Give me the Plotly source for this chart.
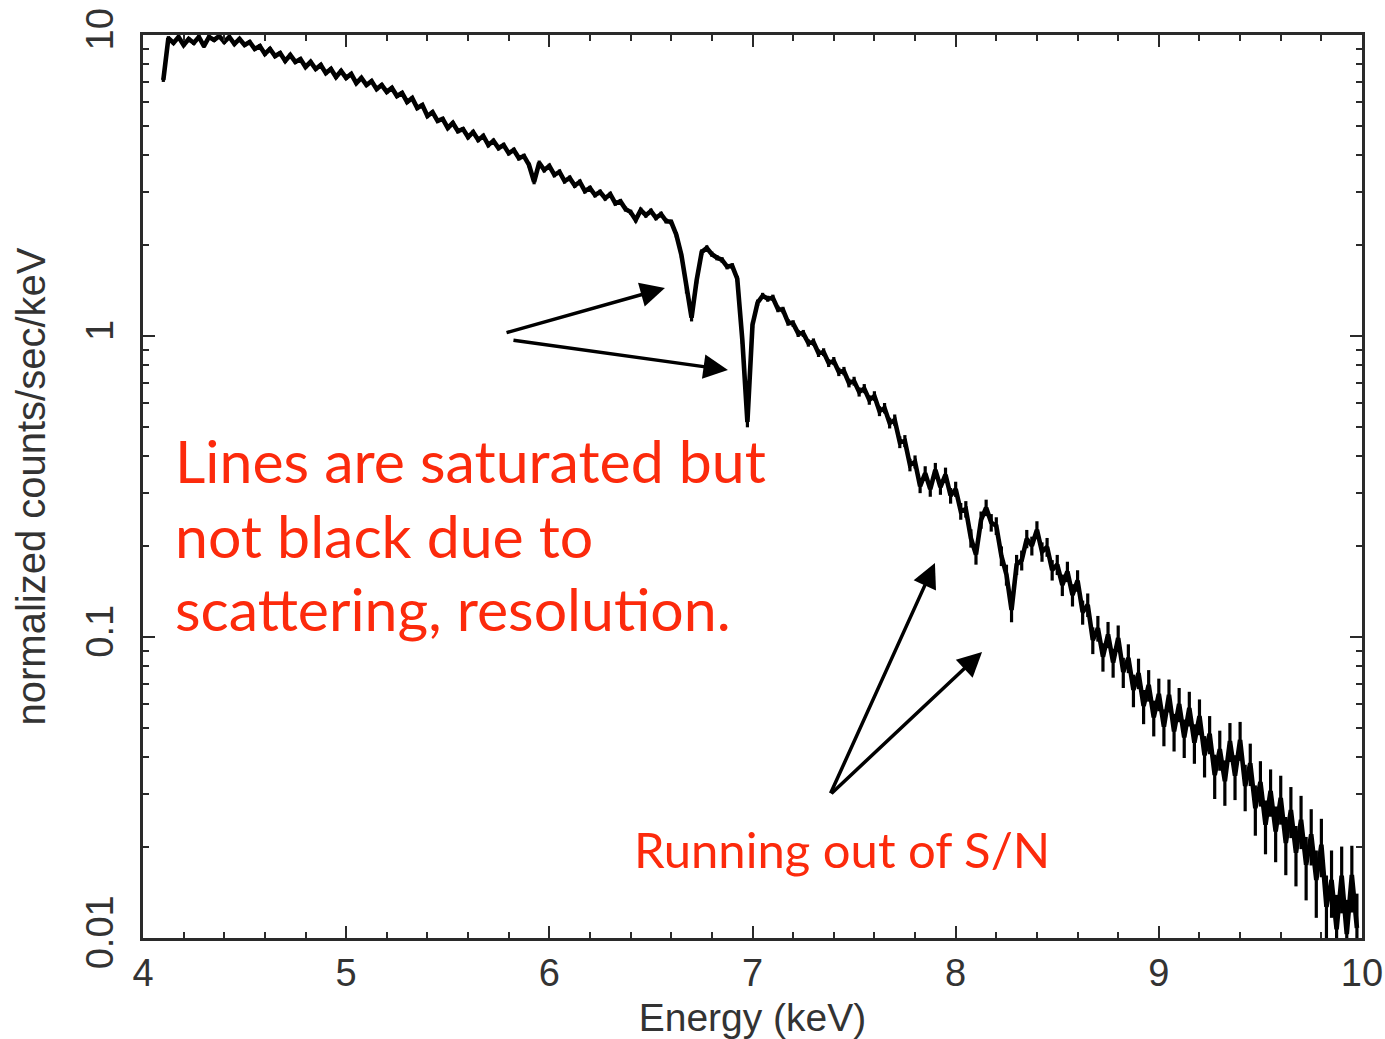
import math
import plotly.graph_objects as go

# ---------------- data ----------------
energy_kev = [
    4.100, 4.125, 4.150, 4.175, 4.200, 4.225, 4.250, 4.275, 4.300, 4.325,
    4.350, 4.375, 4.400, 4.425, 4.450, 4.475, 4.500, 4.525, 4.550, 4.575,
    4.600, 4.625, 4.650, 4.675, 4.700, 4.725, 4.750, 4.775, 4.800, 4.825,
    4.850, 4.875, 4.900, 4.925, 4.950, 4.975, 5.000, 5.025, 5.050, 5.075,
    5.100, 5.125, 5.150, 5.175, 5.200, 5.225, 5.250, 5.275, 5.300, 5.325,
    5.350, 5.375, 5.400, 5.425, 5.450, 5.475, 5.500, 5.525, 5.550, 5.575,
    5.600, 5.625, 5.650, 5.675, 5.700, 5.725, 5.750, 5.775, 5.800, 5.825,
    5.850, 5.875, 5.900, 5.925, 5.950, 5.975, 6.000, 6.025, 6.050, 6.075,
    6.100, 6.125, 6.150, 6.175, 6.200, 6.225, 6.250, 6.275, 6.300, 6.325,
    6.350, 6.375, 6.400, 6.425, 6.450, 6.475, 6.500, 6.525, 6.550, 6.575,
    6.600, 6.625, 6.650, 6.675, 6.700, 6.725, 6.750, 6.775, 6.800, 6.825,
    6.850, 6.875, 6.900, 6.925, 6.950, 6.975, 7.000, 7.025, 7.050, 7.075,
    7.100, 7.125, 7.150, 7.175, 7.200, 7.225, 7.250, 7.275, 7.300, 7.325,
    7.350, 7.375, 7.400, 7.425, 7.450, 7.475, 7.500, 7.525, 7.550, 7.575,
    7.600, 7.625, 7.650, 7.675, 7.700, 7.725, 7.750, 7.775, 7.800, 7.825,
    7.850, 7.875, 7.900, 7.925, 7.950, 7.975, 8.000, 8.025, 8.050, 8.075,
    8.100, 8.125, 8.150, 8.175, 8.200, 8.225, 8.250, 8.275, 8.300, 8.325,
    8.350, 8.375, 8.400, 8.425, 8.450, 8.475, 8.500, 8.525, 8.550, 8.575,
    8.600, 8.625, 8.650, 8.675, 8.700, 8.725, 8.750, 8.775, 8.800, 8.825,
    8.850, 8.875, 8.900, 8.925, 8.950, 8.975, 9.000, 9.025, 9.050, 9.075,
    9.100, 9.125, 9.150, 9.175, 9.200, 9.225, 9.250, 9.275, 9.300, 9.325,
    9.350, 9.375, 9.400, 9.425, 9.450, 9.475, 9.500, 9.525, 9.550, 9.575,
    9.600, 9.625, 9.650, 9.675, 9.700, 9.725, 9.750, 9.775, 9.800, 9.825,
    9.850, 9.875, 9.900, 9.925, 9.950, 9.975,
]

counts_per_kev = [
    7.09, 9.77, 9.41, 9.85, 9.26, 9.70, 9.41, 9.85, 9.19, 9.85,
    9.63, 9.92, 9.48, 9.85, 9.33, 9.70, 9.26, 9.48, 8.99, 9.19,
    8.65, 8.99, 8.51, 8.71, 8.20, 8.58, 8.14, 8.32, 7.83, 8.14,
    7.71, 7.95, 7.47, 7.71, 7.25, 7.59, 7.20, 7.42, 6.92, 7.20,
    6.82, 7.03, 6.61, 6.82, 6.47, 6.67, 6.27, 6.42, 5.99, 6.17,
    5.72, 5.85, 5.38, 5.54, 5.18, 5.26, 4.91, 5.10, 4.79, 4.87,
    4.58, 4.76, 4.48, 4.62, 4.31, 4.45, 4.21, 4.31, 4.05, 4.15,
    3.90, 3.96, 3.70, 3.25, 3.76, 3.56, 3.67, 3.43, 3.51, 3.27,
    3.35, 3.16, 3.25, 3.03, 3.10, 2.94, 3.01, 2.87, 2.96, 2.76,
    2.80, 2.64, 2.58, 2.43, 2.62, 2.52, 2.60, 2.47, 2.54, 2.41,
    2.39, 2.17, 1.86, 1.42, 1.15, 1.53, 1.90, 1.96, 1.87, 1.82,
    1.79, 1.70, 1.71, 1.55, 0.970, 0.518, 1.09, 1.29, 1.36, 1.33,
    1.34, 1.23, 1.22, 1.11, 1.10, 1.02, 1.02, 0.948, 0.955, 0.877,
    0.884, 0.813, 0.826, 0.760, 0.765, 0.698, 0.708, 0.652, 0.669, 0.613,
    0.632, 0.563, 0.576, 0.514, 0.526, 0.444, 0.448, 0.373, 0.382, 0.317,
    0.350, 0.310, 0.359, 0.315, 0.346, 0.295, 0.310, 0.262, 0.266, 0.213,
    0.188, 0.245, 0.269, 0.240, 0.234, 0.186, 0.161, 0.123, 0.174, 0.180,
    0.212, 0.201, 0.227, 0.192, 0.199, 0.167, 0.174, 0.149, 0.165, 0.138,
    0.154, 0.121, 0.128, 0.0977, 0.107, 0.0860, 0.102, 0.0823, 0.0992, 0.0765,
    0.0852, 0.0667, 0.0759, 0.0590, 0.0693, 0.0541, 0.0647, 0.0504, 0.0642, 0.0486,
    0.0599, 0.0464, 0.0581, 0.0446, 0.0546, 0.0405, 0.0477, 0.0348, 0.0424, 0.0332,
    0.0451, 0.0346, 0.0455, 0.0320, 0.0381, 0.0270, 0.0330, 0.0238, 0.0308, 0.0226,
    0.0292, 0.0207, 0.0266, 0.0192, 0.0247, 0.0175, 0.0221, 0.0156, 0.0204, 0.0127,
    0.0156, 0.0107, 0.0161, 0.0103, 0.0162, 0.0108,
]

# fractional 1-sigma error of each bin (error bar half-length / value)
relative_error = [
    0.015, 0.015, 0.015, 0.015, 0.015, 0.015, 0.015, 0.015, 0.015, 0.015,
    0.015, 0.015, 0.015, 0.015, 0.015, 0.015, 0.015, 0.015, 0.015, 0.015,
    0.015, 0.015, 0.015, 0.015, 0.015, 0.015, 0.015, 0.015, 0.015, 0.015,
    0.015, 0.015, 0.015, 0.015, 0.015, 0.015, 0.015, 0.015, 0.015, 0.015,
    0.015, 0.015, 0.015, 0.015, 0.015, 0.015, 0.015, 0.015, 0.015, 0.015,
    0.016, 0.016, 0.016, 0.016, 0.016, 0.016, 0.016, 0.016, 0.016, 0.016,
    0.017, 0.017, 0.017, 0.017, 0.017, 0.017, 0.017, 0.017, 0.017, 0.017,
    0.018, 0.018, 0.018, 0.018, 0.018, 0.018, 0.018, 0.018, 0.018, 0.018,
    0.018, 0.018, 0.018, 0.018, 0.018, 0.018, 0.018, 0.018, 0.018, 0.018,
    0.019, 0.019, 0.019, 0.019, 0.019, 0.019, 0.019, 0.019, 0.019, 0.019,
    0.020, 0.020, 0.022, 0.025, 0.028, 0.024, 0.021, 0.020, 0.020, 0.020,
    0.021, 0.021, 0.021, 0.022, 0.030, 0.040, 0.026, 0.024, 0.023, 0.023,
    0.024, 0.025, 0.025, 0.026, 0.026, 0.027, 0.027, 0.028, 0.028, 0.029,
    0.030, 0.030, 0.031, 0.032, 0.032, 0.033, 0.034, 0.035, 0.035, 0.036,
    0.037, 0.038, 0.040, 0.041, 0.043, 0.045, 0.046, 0.048, 0.050, 0.052,
    0.055, 0.057, 0.055, 0.058, 0.056, 0.060, 0.058, 0.064, 0.063, 0.070,
    0.075, 0.066, 0.063, 0.067, 0.068, 0.075, 0.080, 0.090, 0.077, 0.076,
    0.070, 0.072, 0.068, 0.074, 0.072, 0.078, 0.077, 0.082, 0.078, 0.085,
    0.082, 0.092, 0.090, 0.102, 0.098, 0.108, 0.100, 0.110, 0.101, 0.115,
    0.110, 0.124, 0.116, 0.130, 0.120, 0.136, 0.124, 0.140, 0.125, 0.143,
    0.130, 0.146, 0.132, 0.150, 0.136, 0.157, 0.145, 0.168, 0.152, 0.172,
    0.148, 0.170, 0.148, 0.176, 0.161, 0.190, 0.172, 0.203, 0.179, 0.210,
    0.185, 0.219, 0.193, 0.227, 0.201, 0.238, 0.212, 0.252, 0.220, 0.270,
    0.252, 0.300, 0.250, 0.300, 0.250, 0.300,
]

x_tick_vals = [4, 5, 6, 7, 8, 9, 10]
x_tick_text = ["4", "5", "6", "7", "8", "9", "10"]
y_tick_vals = [0.01, 0.1, 1, 10]
y_tick_text = ["0.01", "0.1", "1", "10"]

# arrow (tail energy, tail counts, head energy, head counts)
line_arrows = [
    (5.782, 1.023, 6.569, 1.444),
    (5.816, 0.970, 6.879, 0.771),
]
sn_arrows = [
    (7.381, 0.0299, 7.898, 0.176),
    (7.381, 0.0299, 8.130, 0.0892),
]

note_lines = ["Lines are saturated but", "not black due to", "scattering, resolution."]
note_sn = "Running out of S/N"

# ---------------- figure ----------------
AX = "#2a2a2a"
RED = "#fc2a0c"
FONT = "Liberation Sans, Arial, sans-serif"
TICK_FONT = dict(family=FONT, size=38, color="#333333")

error_abs = [r * v for r, v in zip(relative_error, counts_per_kev)]

fig = go.Figure()
fig.add_trace(go.Scatter(
    x=energy_kev, y=counts_per_kev, mode="lines",
    line=dict(color="black", width=4.6, shape="linear"),
    error_y=dict(type="data", array=error_abs, visible=True,
                 color="black", thickness=3.2, width=0),
    hoverinfo="skip", showlegend=False,
))

y_minor = [m * 10.0 ** e for e in (-2, -1, 0) for m in range(2, 10)]

fig.update_layout(
    width=1385, height=1039,
    margin=dict(l=143, r=23, t=35, b=101),
    paper_bgcolor="white", plot_bgcolor="white",
    showlegend=False,
    xaxis=dict(
        range=[4, 10], tickmode="array", tickvals=x_tick_vals, ticktext=x_tick_text,
        ticks="inside", ticklen=12, tickwidth=2, tickcolor=AX,
        showline=True, linewidth=2.5, linecolor=AX, mirror="ticks",
        showgrid=False, zeroline=False, automargin=False,
        minor=dict(dtick=0.2, ticks="inside", ticklen=6, tickwidth=2, tickcolor=AX, showgrid=False),
        tickfont=TICK_FONT, ticklabelstandoff=0,
        title=dict(text="Energy (keV)", font=dict(family=FONT, size=39, color="#333333"), standoff=12),
    ),
    yaxis=dict(
        type="log", range=[-2, 1], tickmode="array", tickvals=y_tick_vals, ticktext=y_tick_text,
        tickangle=-90,
        ticks="inside", ticklen=12, tickwidth=2, tickcolor=AX,
        showline=True, linewidth=2.5, linecolor=AX, mirror="ticks",
        showgrid=False, zeroline=False, automargin=False,
        minor=dict(tickmode="array", tickvals=y_minor, ticks="inside", ticklen=6, tickwidth=2, tickcolor=AX, showgrid=False),
        tickfont=TICK_FONT, ticklabelstandoff=12,
        title=dict(text="normalized counts/sec/keV", font=dict(family=FONT, size=40, color="#333333"), standoff=22),
    ),
)

for (tx, tv, hx, hv) in line_arrows + sn_arrows:
    fig.add_annotation(
        x=hx, y=math.log10(hv), ax=tx, ay=math.log10(tv),
        xref="x", yref="y", axref="x", ayref="y",
        text="", showarrow=True, arrowhead=2, arrowsize=1.4, arrowwidth=3.5,
        arrowcolor="black",
    )

for text, ypos in zip(note_lines, [0.5285, 0.4455, 0.3646]):
    fig.add_annotation(
        x=0.025, y=ypos, xref="paper", yref="paper", xanchor="left", yanchor="middle",
        text=text, showarrow=False, align="left",
        font=dict(family="Lato, Open Sans, sans-serif", size=59, color=RED),
    )
fig.add_annotation(
    x=0.5734, y=0.0985, xref="paper", yref="paper", xanchor="center", yanchor="middle",
    text=note_sn, showarrow=False, align="center",
    font=dict(family="Lato, Open Sans, sans-serif", size=49, color=RED),
)

fig.write_html("out.html")
